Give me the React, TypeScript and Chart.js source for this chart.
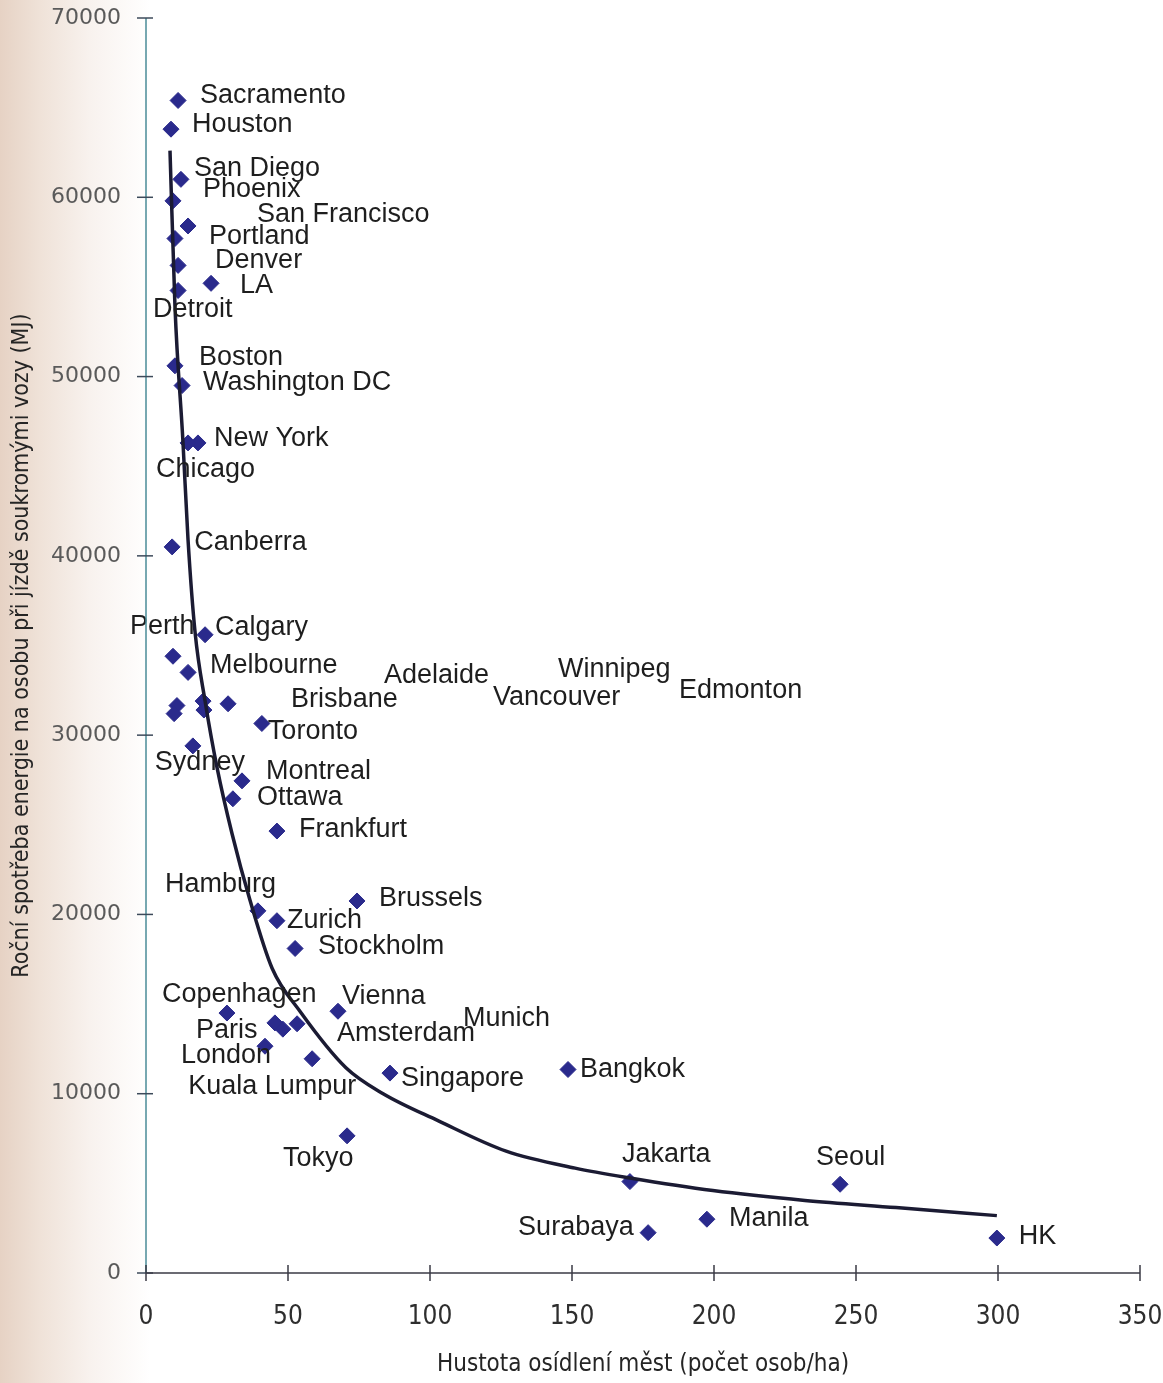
import React, { useEffect, useRef } from "react";
import { Chart, registerables } from "chart.js";

Chart.register(...registerables);

// ---- data ----
const cityNames = [
  "Sacramento", "Houston", "San Diego", "Phoenix", "San Francisco", "Portland",
  "Denver", "LA", "Detroit", "Boston", "Washington DC", "New York", "Chicago",
  "Canberra", "Calgary", "Perth", "Melbourne", "Adelaide", "Brisbane",
  "Vancouver", "Winnipeg", "Edmonton", "Toronto", "Sydney", "Montreal",
  "Ottawa", "Frankfurt", "Hamburg", "Zurich", "Brussels", "Stockholm",
  "Copenhagen", "Paris", "Amsterdam", "Munich", "Vienna", "London",
  "Kuala Lumpur", "Singapore", "Tokyo", "Bangkok", "Jakarta", "Seoul",
  "Surabaya", "Manila", "HK",
];

// population density (persons/ha)
const densities = [
  11.3, 8.8, 12.3, 9.5, 14.8, 10.2,
  11.3, 22.9, 11.3, 10.2, 12.7, 18.3, 14.8,
  9.2, 20.8, 9.5, 14.8, 10.9, 9.9,
  20.1, 20.4, 28.9, 40.8, 16.5, 33.8,
  30.6, 46.1, 39.4, 46.1, 74.3, 52.5,
  28.5, 45.4, 48.2, 53.2, 67.6, 41.9,
  58.5, 85.9, 70.8, 148.6, 170.4, 244.4,
  176.8, 197.5, 299.6,
];

// annual private-car energy use per person (MJ)
const energies = [
  65400, 63800, 61000, 59800, 58400, 57700,
  56200, 55200, 54800, 50600, 49500, 46300, 46300,
  40500, 35600, 34400, 33500, 31650, 31200,
  31900, 31400, 31750, 30650, 29400, 27450,
  26450, 24650, 20200, 19650, 20750, 18100,
  14500, 13950, 13600, 13900, 14600, 12650,
  11950, 11150, 7650, 11350, 5100, 4950,
  2250, 3000, 1950,
];

// trend curve
const trendX = [8.45, 10.2, 13.0, 14.8, 17.3, 20.8, 25.0, 30.3, 36.6, 44.4, 54.2, 70.4, 83.5, 102.8, 126.8, 151.1, 170.4, 199.6, 232.0, 264.1, 299.6];
const trendY = [62600, 53900, 46400, 40900, 35700, 31900, 28200, 24500, 20800, 17000, 14600, 11450, 10000, 8500, 6800, 5850, 5300, 4600, 4050, 3650, 3200];

const xTickStep = 50;
const yTickStep = 10000;

// label placement (pixel offsets of the label's left/middle from its marker)
const labelDx = [
  22, 21, 13, 30, 69, 34,
  37, 29, -25, 24, 21, 16, -32,
  22, 10, -43, 22, 207, 117,
  290, 354, 451, 6, -38, 24,
  24, 22, -93, 10, 22, 23,
  -65, -79, 54, 166, 4, -84,
  -124, 11, -64, 12, -8, -24,
  -130, 22, 22,
];
const labelDy = [
  -5, -5, -11, -11, -11, -2,
  -5, 2, 19, -8, -3, -4, 27,
  -4, -7, -30, -7, -30, -14,
  -4, -40, -13, 8, 17, -9,
  -1, -2, -26, 0, -2, -2,
  -18, 8, 4, -5, -15, 9,
  28, 5, 23, 0, -27, -27,
  -5, -1, -1,
];

const NARROW = '"Liberation Sans Narrow", "DejaVu Sans Condensed", "Liberation Sans", sans-serif';

const axesPlugin = {
  id: "crossAxes",
  afterDraw(chart: any) {
    const { ctx, chartArea, scales } = chart;
    const xs = scales.x;
    const ys = scales.y;
    ctx.save();
    // y axis
    ctx.strokeStyle = "#4a8b97";
    ctx.lineWidth = 1.5;
    ctx.beginPath();
    ctx.moveTo(chartArea.left, chartArea.top);
    ctx.lineTo(chartArea.left, chartArea.bottom);
    ctx.stroke();
    ctx.strokeStyle = "#3c4a5a";
    ys.ticks.forEach((t: any) => {
      const y = ys.getPixelForValue(t.value);
      ctx.beginPath();
      ctx.moveTo(chartArea.left - 9, y);
      ctx.lineTo(chartArea.left + 7, y);
      ctx.stroke();
    });
    // x axis
    ctx.strokeStyle = "#3a3a44";
    ctx.lineWidth = 1.5;
    ctx.beginPath();
    ctx.moveTo(chartArea.left, chartArea.bottom);
    ctx.lineTo(chartArea.right, chartArea.bottom);
    ctx.stroke();
    xs.ticks.forEach((t: any) => {
      const x = xs.getPixelForValue(t.value);
      ctx.beginPath();
      ctx.moveTo(x, chartArea.bottom - 8);
      ctx.lineTo(x, chartArea.bottom + 8);
      ctx.stroke();
    });
    ctx.restore();
  },
};

const labelPlugin = {
  id: "cityLabels",
  afterDatasetsDraw(chart: any) {
    const meta = chart.getDatasetMeta(1);
    const { ctx } = chart;
    ctx.save();
    ctx.font = '27px "Liberation Sans", Arial, sans-serif';
    ctx.fillStyle = "#1e1e1e";
    ctx.textAlign = "left";
    ctx.textBaseline = "middle";
    meta.data.forEach((pt: any, i: number) => {
      ctx.fillText(cityNames[i], pt.x + labelDx[i], pt.y + labelDy[i]);
    });
    ctx.restore();
  },
};

export default function App() {
  const canvasRef = useRef<HTMLCanvasElement | null>(null);

  useEffect(() => {
    if (!canvasRef.current) return;
    const chart = new Chart(canvasRef.current, {
      type: "scatter",
      data: {
        datasets: [
          {
            type: "line",
            label: "trend",
            data: trendX.map((x, i) => ({ x, y: trendY[i] })),
            borderColor: "#1b1b33",
            borderWidth: 3.5,
            pointRadius: 0,
            fill: false,
            cubicInterpolationMode: "monotone",
          } as any,
          {
            label: "cities",
            data: densities.map((x, i) => ({ x, y: energies[i] })),
            pointStyle: "rectRot",
            pointRadius: 8,
            backgroundColor: "#2a2a8c",
            borderColor: "#2a2a8c",
            borderWidth: 1,
          },
        ],
      },
      options: {
        responsive: false,
        animation: false,
        devicePixelRatio: 1,
        layout: { padding: { left: 0, right: 23, top: 18, bottom: 0 } },
        plugins: {
          legend: { display: false },
          tooltip: { enabled: false },
        },
        scales: {
          x: {
            type: "linear",
            min: 0,
            max: 350,
            grid: { display: false },
            border: { display: false },
            ticks: {
              stepSize: xTickStep,
              color: "#2e2e2e",
              padding: 21,
              font: { family: NARROW, size: 26 },
              callback: (v: any) => String(v),
            },
            title: {
              display: true,
              text: "Hustota osídlení měst (počet osob/ha)",
              color: "#252525",
              font: { family: NARROW, size: 24 },
              padding: { top: 0, bottom: 4 },
            },
            afterFit: (s: any) => {
              s.height = 110;
              s.paddingLeft = 0;
              s.paddingRight = 0;
            },
          },
          y: {
            type: "linear",
            min: 0,
            max: 70000,
            grid: { display: false },
            border: { display: false },
            ticks: {
              stepSize: yTickStep,
              color: "#5a5a5a",
              padding: 17,
              font: { family: '"DejaVu Sans", Verdana, sans-serif', size: 22 },
              callback: (v: any) => String(v),
            },
            title: {
              display: true,
              text: "Roční spotřeba energie na osobu při jízdě soukromými vozy (MJ)",
              color: "#252525",
              font: { family: NARROW, size: 23 },
              padding: { top: 8, bottom: 0 },
            },
            afterFit: (s: any) => {
              s.width = 146;
              s.paddingTop = 0;
              s.paddingBottom = 0;
            },
          },
        },
      },
      plugins: [axesPlugin, labelPlugin],
    });
    return () => chart.destroy();
  }, []);

  return (
    <div
      style={{
        position: "absolute",
        left: 0,
        top: 0,
        width: 1163,
        height: 1383,
        background:
          "linear-gradient(90deg, #e6d2c4 0px, #efe2d8 40px, #f8f2ee 90px, #ffffff 150px)",
      }}
    >
      <canvas ref={canvasRef} width={1163} height={1383} style={{ display: "block", width: 1163, height: 1383 }} />
    </div>
  );
}
